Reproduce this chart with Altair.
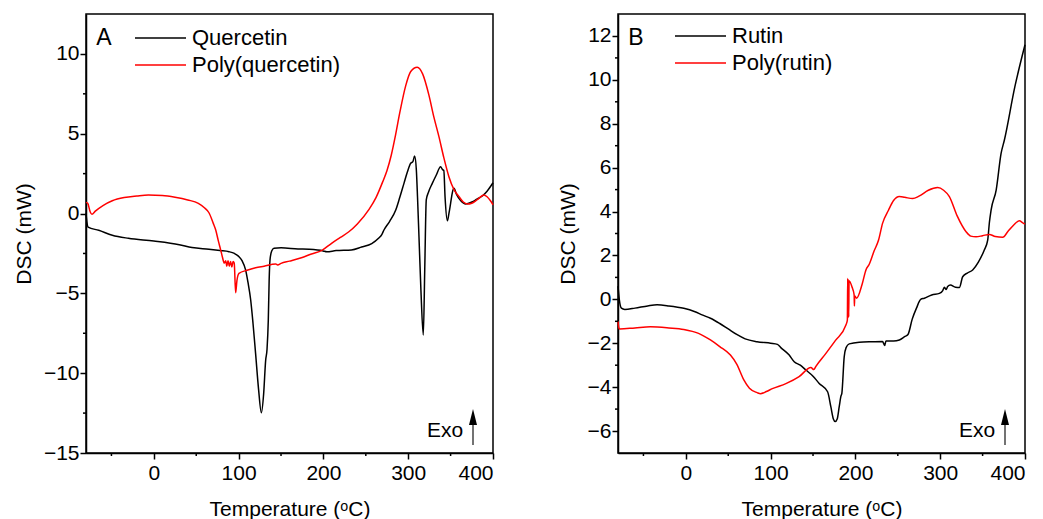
import altair as alt
import pandas as pd

FONT = "Liberation Sans"

# ---------------- Panel A data ----------------
quercetin_T = [-80, -79, -77.5, -65, -49, -30, 0, 30, 45, 65, 78, 88.6, 95, 100.4, 104, 108.3, 111,
               114.2, 117, 120, 123.5, 126.8, 129.5, 131.9, 133.5, 135, 136, 137, 139, 141.7, 150,
               170, 183, 199.7, 204, 215, 233, 245, 257, 265, 269, 271.4, 278, 285.3, 290, 295, 299,
               302.9, 305.5, 307.6, 309.6, 311, 312.7, 315, 317.8, 319.5, 321.3, 324, 328.4, 333,
               338.2, 340.5, 342, 343.5, 346.2, 348, 350, 352, 354, 357, 362, 367.8, 375, 381,
               387.4, 393, 400]
quercetin_dsc = [0.0, -0.5, -0.85, -1.05, -1.36, -1.55, -1.72, -1.95, -2.13, -2.24, -2.32, -2.39,
                 -2.5, -2.7, -2.95, -3.54, -4.3, -5.4, -6.9, -8.76, -11.0, -12.48, -11.3, -9.18,
                 -8.5, -6.67, -4.2, -2.91, -2.35, -2.18, -2.15, -2.22, -2.24, -2.34, -2.4, -2.32,
                 -2.28, -2.1, -1.88, -1.55, -1.3, -1.03, -0.5, 0.22, 1.0, 1.89, 2.6, 3.15, 3.25,
                 3.6, 2.73, 1.0, -1.45, -4.8, -7.61, -3.5, 0.85, 1.35, 1.89, 2.4, 2.93, 2.75, 2.7,
                 1.0, -0.45, 0.0, 0.64, 1.3, 1.58, 1.2, 0.8, 0.6, 0.72, 0.9, 1.1, 1.4, 1.93]

polyq_T = [-80, -78, -75, -73, -69, -60, -49, -35, -20, -6.5, 10, 25, 40, 52.5, 60, 65, 70, 73, 76,
           78.9, 81, 83, 84.8, 86, 87.5, 89, 90.5, 92, 93.5, 94.8, 96.5, 98, 100.4, 110, 120, 130,
           143.7, 146, 150, 160, 175, 185, 198.7, 210, 220, 230, 240, 253.8, 262, 270, 275, 280,
           285, 290, 297, 303, 310.7, 317, 324.5, 330, 336.3, 342, 348, 354, 360, 365, 369.7,
           375, 381, 389.4, 393, 397, 400]
polyq_dsc = [0.7, 0.64, 0.1, -0.05, 0.15, 0.5, 0.8, 1.0, 1.1, 1.16, 1.13, 1.02, 0.85, 0.64, 0.35,
             0.05, -0.6, -1.03, -1.7, -2.29, -2.75, -3.1, -2.95, -3.3, -2.95, -3.3, -3.0, -3.35,
             -3.0, -3.1, -4.96, -4.2, -3.75, -3.55, -3.4, -3.3, -3.16, -3.22, -3.12, -2.98, -2.75,
             -2.55, -2.29, -1.85, -1.5, -1.14, -0.65, 0.26, 1.0, 2.0, 2.7, 3.65, 4.9, 6.3, 8.0,
             8.9, 9.16, 8.75, 7.4, 6.1, 4.8, 3.5, 2.31, 1.5, 1.05, 0.72, 0.6, 0.65, 0.85, 1.16,
             1.05, 0.8, 0.55]

# ---------------- Panel B data ----------------
rutin_T = [-80, -78.5, -76, -72, -60, -45, -34, -20, -2.4, 10, 20, 29, 40, 50, 60, 70, 84, 100, 108,
           112, 121.9, 127.8, 135, 141.6, 150, 157.3, 167.2, 171, 174, 176.2, 178.5, 180.9, 183,
           184, 186.8, 189, 192.7, 204.5, 220, 232, 234.5, 236, 245, 251.8, 258, 262, 267, 272,
           277, 281.3, 290, 299, 303, 305, 307, 308.8, 312, 318, 322.6, 326.5, 332, 338.3, 345,
           352, 356, 358, 360, 366, 371.8, 375.7, 388, 400]
rutin_dsc = [0.6, 0.0, -0.4, -0.46, -0.4, -0.3, -0.25, -0.3, -0.41, -0.55, -0.72, -0.86, -1.1,
             -1.35, -1.6, -1.8, -1.93, -2.0, -2.05, -2.2, -2.54, -2.84, -3.0, -3.22, -3.5, -3.83,
             -4.21, -4.89, -5.45, -5.57, -5.45, -4.89, -4.4, -4.28, -2.61, -2.2, -2.03, -1.95,
             -1.93, -1.92, -2.1, -1.9, -1.9, -1.85, -1.7, -1.6, -0.9, -0.4, 0.0, 0.05, 0.2, 0.27,
             0.4, 0.55, 0.45, 0.58, 0.65, 0.55, 0.54, 1.03, 1.2, 1.34, 1.7, 2.25, 2.7, 3.5, 4.07,
             4.98, 6.65, 7.26, 9.68, 11.6]

polyr_T = [-80, -79, -78, -60, -41.8, -20, -2.4, 15, 29, 40, 52.6, 60, 68.4, 75, 84.1, 88, 95, 102,
           118, 133.6, 147.5, 151, 153.4, 165.2, 176.5, 188.8, 190.5, 190.9, 191.3, 191.7, 192.1,
           192.5, 196, 198.5, 198.8, 199.2, 201.4, 208, 212.4, 216.3, 222, 227.3, 232, 239, 245,
           251.8, 258, 267.5, 275, 286, 297, 304, 310.8, 320, 330.5, 336, 342.3, 350, 358, 365,
           373.7, 380, 387, 393.4, 397, 400]
polyr_dsc = [-1.0, -1.3, -1.35, -1.3, -1.25, -1.3, -1.37, -1.55, -1.85, -2.15, -2.54, -2.95,
             -3.67, -4.05, -4.25, -4.3, -4.2, -4.07, -3.84, -3.52, -3.11, -3.2, -3.05, -2.46,
             -1.87, -1.17, -0.95, 0.95, -0.85, 0.9, -0.8, 0.85, 0.56, 0.2, -0.3, 0.15, 0.05, 0.7,
             1.34, 1.6, 2.2, 2.7, 3.46, 4.06, 4.5, 4.68, 4.65, 4.59, 4.7, 4.97, 5.09, 4.97, 4.68,
             3.8, 3.08, 2.88, 2.85, 2.9, 2.96, 2.86, 2.83, 3.1, 3.4, 3.58, 3.5, 3.43]

x_major = [0, 100, 200, 300, 400]
x_minor = [-50, 50, 150, 250, 350]
a_y_major = [-15, -10, -5, 0, 5, 10]
a_y_minor = [-12.5, -7.5, -2.5, 2.5, 7.5]
b_y_major = [-6, -4, -2, 0, 2, 4, 6, 8, 10, 12]
b_y_minor = [-5, -3, -1, 1, 3, 5, 7, 9, 11]

W = 407
H = 439
ONE = pd.DataFrame({"k": [0]})


def panel(letter, names, series, ydom, ymajor, yminor, width):
    rows = []
    for name, (ts, vs) in zip(names, series):
        for t, v in zip(ts, vs):
            rows.append({"T": t, "DSC": v, "series": name})
    df = pd.DataFrame(rows)
    xs = alt.Scale(domain=[-80, 400], nice=False, zero=False)
    ys = alt.Scale(domain=ydom, nice=False, zero=False)

    lines = alt.Chart(df).mark_line(strokeWidth=1.5, interpolate="monotone").encode(
        x=alt.X("T:Q", scale=xs, axis=alt.Axis(values=x_major, title="Temperature (ᵒC)")),
        y=alt.Y("DSC:Q", scale=ys, axis=alt.Axis(values=ymajor, title="DSC (mW)")),
        color=alt.Color("series:N", scale=alt.Scale(domain=names, range=["black", "red"]),
                        legend=None),
        detail="series:N",
    )
    xmin = alt.Chart(pd.DataFrame({"T": x_minor})).mark_rule(color="black", strokeWidth=1.5).encode(
        x=alt.X("T:Q", scale=xs), y=alt.value(H), y2=alt.value(H + 3))
    ymin = alt.Chart(pd.DataFrame({"DSC": yminor})).mark_rule(color="black", strokeWidth=1.5).encode(
        y=alt.Y("DSC:Q", scale=ys), x=alt.value(0), x2=alt.value(-3))

    layers = [lines, xmin, ymin]
    # panel letter
    layers.append(alt.Chart(ONE).mark_text(text=letter, font=FONT, fontSize=23, color="black",
                                           align="center", baseline="middle")
                  .encode(x=alt.value(18), y=alt.value(24)))
    # legend
    ly = [24, 51] if letter == "A" else [22, 49]
    cols = ["black", "red"]
    x0 = 49 if letter == "A" else 57
    for i, name in enumerate(names):
        layers.append(alt.Chart(ONE).mark_rule(strokeWidth=1.5, color=cols[i])
                      .encode(x=alt.value(x0), x2=alt.value(x0 + 51), y=alt.value(ly[i])))
        layers.append(alt.Chart(ONE).mark_text(text=name, font=FONT, fontSize=22, color="black",
                                               align="left", baseline="middle")
                      .encode(x=alt.value(x0 + 57), y=alt.value(ly[i])))
    # Exo arrow
    layers.append(alt.Chart(ONE).mark_text(text="Exo", font=FONT, fontSize=21, color="black",
                                           align="center", baseline="middle")
                  .encode(x=alt.value(359), y=alt.value(417)))
    layers.append(alt.Chart(ONE).mark_rule(strokeWidth=1.5, color="#444444")
                  .encode(x=alt.value(387), y=alt.value(431), y2=alt.value(408)))
    layers.append(alt.Chart(ONE).mark_point(shape="M -0.5 1 L 0 -1 L 0.5 1 Z", filled=True,
                                            size=256, color="black", opacity=1)
                  .encode(x=alt.value(387), y=alt.value(403)))
    return alt.layer(*layers).properties(width=width, height=H)


pa = panel("A", ["Quercetin", "Poly(quercetin)"],
           [(quercetin_T, quercetin_dsc), (polyq_T, polyq_dsc)],
           [-15, 12.5], a_y_major, a_y_minor, W)
pb = panel("B", ["Rutin", "Poly(rutin)"],
           [(rutin_T, rutin_dsc), (polyr_T, polyr_dsc)],
           [-7, 13], b_y_major, b_y_minor, W)

chart = alt.hconcat(pa, pb, spacing=125, bounds="flush").properties(
    padding={"left": 4, "top": 5, "right": 0, "bottom": 0}
).configure_view(
    stroke="black", strokeWidth=1.5
).configure_axis(
    grid=False, domainColor="black", domainWidth=1.5, tickColor="black", tickWidth=1.5,
    tickSize=6, labelFont=FONT, labelFontSize=21, labelColor="black", titleFont=FONT,
    titleFontSize=21, titleColor="black", titleFontWeight="normal"
).configure_axisX(
    labelPadding=3, titlePadding=15
).configure_axisY(
    labelPadding=1, titlePadding=9
)

chart.save("out.html", embed_options={"renderer": "svg", "actions": False})
